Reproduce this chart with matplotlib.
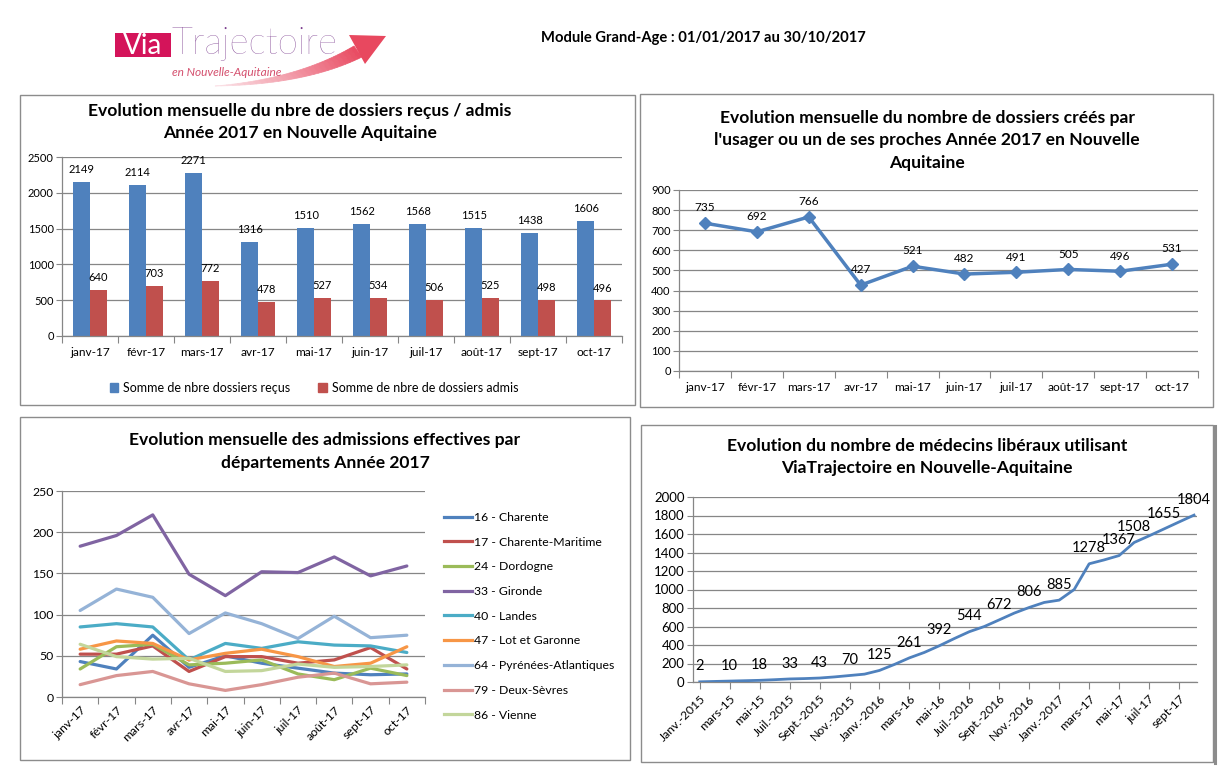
import numpy as np
import matplotlib
matplotlib.use('Agg')
import matplotlib.pyplot as plt
from matplotlib.patches import Rectangle, Polygon, Patch
from matplotlib.lines import Line2D
from matplotlib.colors import to_rgb

plt.rcParams['font.family'] = ['Lato', 'DejaVu Sans']

# ---------------- data ----------------
months17 = ['janv-17', 'févr-17', 'mars-17', 'avr-17', 'mai-17', 'juin-17',
            'juil-17', 'août-17', 'sept-17', 'oct-17']
dossiers_recus = [2149, 2114, 2271, 1316, 1510, 1562, 1568, 1515, 1438, 1606]
dossiers_admis = [640, 703, 772, 478, 527, 534, 506, 525, 498, 496]
dossiers_crees = [735, 692, 766, 427, 521, 482, 491, 505, 496, 531]

dep_names = ['16 - Charente', '17 - Charente-Maritime', '24 - Dordogne', '33 - Gironde',
             '40 - Landes', '47 - Lot et Garonne', '64 - Pyrénées-Atlantiques',
             '79 - Deux-Sèvres', '86 - Vienne']
charente = [43, 34, 75, 36, 50, 41, 35, 29, 27, 28]
charente_maritime = [52, 52, 62, 31, 49, 49, 41, 45, 60, 34]
dordogne = [34, 61, 64, 39, 41, 45, 28, 21, 35, 26]
gironde = [183, 196, 221, 149, 123, 152, 151, 170, 147, 159]
landes = [85, 89, 85, 45, 65, 59, 67, 63, 62, 54]
lot_et_garonne = [58, 68, 65, 45, 53, 58, 49, 37, 41, 61]
pyrenees_atl = [105, 131, 121, 77, 102, 89, 71, 98, 72, 75]
deux_sevres = [15, 26, 31, 16, 8, 15, 24, 29, 16, 18]
vienne = [64, 49, 46, 47, 31, 32, 40, 36, 37, 39]
dep_series = [charente, charente_maritime, dordogne, gironde, landes,
              lot_et_garonne, pyrenees_atl, deux_sevres, vienne]

med_months = ['Janv.-2015', 'févr-15', 'mars-15', 'avr-15', 'mai-15', 'juin-15',
              'Juil.-2015', 'août-15', 'Sept.-2015', 'oct-15', 'Nov.-2015', 'déc-15',
              'Janv.-2016', 'févr-16', 'mars-16', 'avr-16', 'mai-16', 'juin-16',
              'Juil.-2016', 'août-16', 'Sept.-2016', 'oct-16', 'Nov.-2016', 'déc-16',
              'Janv.-2017', 'févr-17', 'mars-17', 'avr-17', 'mai-17', 'juin-17',
              'juil-17', 'août-17', 'sept-17', 'oct-17']
medecins = [2, 6, 10, 14, 18, 25, 33, 37, 43, 55, 70, 85,
            125, 190, 261, 320, 392, 470, 544, 600, 672, 745, 806, 860,
            885, 1000, 1278, 1320, 1367, 1508, 1580, 1655, 1730, 1804]
med_labelled = [0, 2, 4, 6, 8, 10, 12, 14, 16, 18, 20, 22, 24, 26, 28, 29, 31, 33]

# ---------------- styles ----------------
BLUE = '#4F81BD'
RED = '#C0504D'
dep_colors = ['#4F81BD', '#C0504D', '#9BBB59', '#8064A2', '#4BACC6',
              '#F79646', '#95B3D7', '#D99694', '#C3D69B']
GRID = '#868686'
W, H = 1230, 766
TFS = 12.6

fig = plt.figure(figsize=(W / 100, H / 100), dpi=100)
fig.patch.set_facecolor('white')

bg = fig.add_axes([0, 0, 1, 1])
bg.set_xlim(0, W)
bg.set_ylim(H, 0)
bg.axis('off')
bg.set_zorder(-5)


def axp(x0, y0, x1, y1):
    return fig.add_axes([x0 / W, 1 - y1 / H, (x1 - x0) / W, (y1 - y0) / H])


def frame(x0, y0, x1, y1, lw=1.0):
    bg.add_patch(Rectangle((x0, y0), x1 - x0, y1 - y0, fill=False,
                           edgecolor='#8C8C8C', lw=lw))


def style(ax, ymax, ystep, fs):
    ax.set_ylim(0, ymax)
    ax.set_yticks(np.arange(0, ymax + 1, ystep))
    ax.yaxis.grid(True, color=GRID, lw=0.9)
    ax.set_axisbelow(True)
    for s in ['top', 'right']:
        ax.spines[s].set_visible(False)
    for s in ['left', 'bottom']:
        ax.spines[s].set_color(GRID)
        ax.spines[s].set_linewidth(0.9)
    ax.tick_params(axis='y', length=4, color=GRID, labelsize=fs, pad=2)
    ax.set_facecolor('none')


def cat_axis(ax, labels, fs, pad, rot=0):
    n = len(labels)
    ax.set_xlim(-0.5, n - 0.5)
    ax.set_xticks(np.arange(-0.5, n, 1))
    ax.set_xticks(np.arange(n), minor=True)
    ax.set_xticklabels(labels, minor=True)
    ax.tick_params(axis='x', which='major', length=5, color=GRID, labelbottom=False)
    ax.tick_params(axis='x', which='minor', length=0, labelsize=fs, pad=pad)
    if rot:
        for t in ax.get_xticklabels(minor=True):
            t.set_rotation(rot)
            t.set_ha('right')
            t.set_va('top')
            t.set_rotation_mode('anchor')


# ---------------- frames ----------------
frame(20, 95, 635, 405)
frame(640, 94, 1213, 407)
frame(20, 417, 630, 760)
frame(641, 425, 1213, 762)
bg.plot([1214.5, 1214.5], [426, 763], color='#8C8C8C', lw=2.2)

# ---------------- header & logo ----------------
bg.text(703, 38, 'Module Grand-Age : 01/01/2017 au 30/10/2017', fontsize=10.6,
        fontweight='bold', ha='center', va='center', color='black')

bg.add_patch(Rectangle((115, 33), 56, 24, facecolor='#D4145A', edgecolor='none'))
bg.text(143, 46, 'Via', fontsize=20, color='white', ha='center', va='center')
bg.text(171, 44, 'Trajectoire', fontsize=26.5, color='#7B3C8E', ha='left', va='center',
        fontweight='light')
bg.text(227, 72, 'en Nouvelle-Aquitaine', fontsize=8.6, color='#D4506E',
        style='italic', ha='center', va='center')


def qbez(p0, p1, p2, n=30):
    t = np.linspace(0, 1, n)[:, None]
    p0, p1, p2 = map(np.array, (p0, p1, p2))
    return (1 - t) ** 2 * p0 + 2 * (1 - t) * t * p1 + t ** 2 * p2


low = qbez((215, 86), (305, 85), (362, 57))
up = qbez((215, 86), (298, 79), (354, 46))
c0, c1 = np.array(to_rgb('#FBE3E8')), np.array(to_rgb('#E8485F'))
nseg = len(low) - 1
for i in range(nseg):
    col = c0 + (c1 - c0) * (i / nseg)
    poly = [low[i], low[i + 1], up[i + 1], up[i]]
    bg.add_patch(Polygon(poly, closed=True, facecolor=col, edgecolor=col, lw=0.5,
                         zorder=0))
bg.add_patch(Polygon([(349, 35), (386, 36), (365, 64)], closed=True,
                     facecolor='#E8485F', edgecolor='none', zorder=0))

# ---------------- chart 1: bars ----------------
ax1 = axp(62, 157, 622, 336)
style(ax1, 2500, 500, 8)
cat_axis(ax1, months17, 8.6, 8)
x = np.arange(len(months17))
bw = 0.3
ax1.bar(x - bw / 2, dossiers_recus, bw, color=BLUE, zorder=2)
ax1.bar(x + bw / 2, dossiers_admis, bw, color=RED, zorder=2)
for xi, v in zip(x, dossiers_recus):
    ax1.annotate(str(v), (xi - bw / 2, v), xytext=(0, 5), textcoords='offset points',
                 ha='center', va='bottom', fontsize=8)
for xi, v in zip(x, dossiers_admis):
    ax1.annotate(str(v), (xi + bw / 2, v), xytext=(0, 5), textcoords='offset points',
                 ha='center', va='bottom', fontsize=8)
bg.text(300, 111, 'Evolution mensuelle du nbre de dossiers reçus / admis', fontsize=TFS,
        fontweight='bold', ha='center', va='center')
bg.text(300, 133, 'Année 2017 en Nouvelle Aquitaine', fontsize=TFS,
        fontweight='bold', ha='center', va='center')
fig.legend(handles=[Patch(color=BLUE, label='Somme de nbre dossiers reçus'),
                    Patch(color=RED, label='Somme de nbre de dossiers admis')],
           loc='center', bbox_to_anchor=(314 / W, 1 - 388 / H), ncol=2,
           frameon=False, fontsize=9, handlelength=0.7, handleheight=0.7,
           handletextpad=0.4, columnspacing=2.2, borderpad=0, borderaxespad=0)

# ---------------- chart 2: line with markers ----------------
ax2 = axp(679, 190, 1198, 371)
style(ax2, 900, 100, 8)
cat_axis(ax2, months17, 8.6, 8)
ax2.plot(x, dossiers_crees, color=BLUE, lw=2.5, marker='D', markersize=6, zorder=3)
for xi, v in zip(x, dossiers_crees):
    ax2.annotate(str(v), (xi, v), xytext=(0, 7), textcoords='offset points',
                 ha='center', va='bottom', fontsize=8.5)
for i, line in enumerate(['Evolution mensuelle du nombre de dossiers créés par',
                          "l'usager ou un de ses proches Année 2017 en Nouvelle",
                          'Aquitaine']):
    bg.text(927, 118 + 22.5 * i, line, fontsize=TFS, fontweight='bold',
            ha='center', va='center')

# ---------------- chart 3: departments ----------------
ax3 = axp(62, 491, 425, 697)
style(ax3, 250, 50, 8.8)
cat_axis(ax3, months17, 8.8, 5, rot=45)
for name, vals, col in zip(dep_names, dep_series, dep_colors):
    ax3.plot(x, vals, color=col, lw=2.3, label=name, solid_capstyle='round')
handles = [Line2D([0], [0], color=c, lw=2.3) for c in dep_colors]
fig.legend(handles, dep_names, loc='upper left', bbox_to_anchor=(444 / W, 1 - 512 / H),
           bbox_transform=fig.transFigure, frameon=False, fontsize=8.8,
           handlelength=2.3, handletextpad=0.15, labelspacing=1.12,
           borderpad=0, borderaxespad=0)
bg.text(325, 440, 'Evolution mensuelle des admissions effectives par', fontsize=TFS,
        fontweight='bold', ha='center', va='center')
bg.text(325, 463, 'départements Année 2017', fontsize=TFS,
        fontweight='bold', ha='center', va='center')

# ---------------- chart 4: médecins ----------------
ax4 = axp(693, 497, 1197, 682)
style(ax4, 2000, 200, 9.5)
xm = np.arange(len(medecins))
ax4.set_xlim(-0.45, len(medecins) - 0.8)
ax4.set_xticks(xm[::2])
ax4.set_xticklabels(med_months[::2])
ax4.tick_params(axis='x', length=5, color=GRID, labelsize=8.8, pad=3)
for t in ax4.get_xticklabels():
    t.set_rotation(45)
    t.set_ha('right')
    t.set_va('top')
    t.set_rotation_mode('anchor')
ax4.plot(xm, medecins, color=BLUE, lw=2.0, zorder=3)
for i in med_labelled:
    ax4.annotate(str(medecins[i]), (xm[i], medecins[i]), xytext=(0, 6),
                 textcoords='offset points', ha='center', va='bottom', fontsize=10.5)
bg.text(927, 446, 'Evolution du nombre de médecins libéraux utilisant', fontsize=TFS,
        fontweight='bold', ha='center', va='center')
bg.text(927, 468, 'ViaTrajectoire en Nouvelle-Aquitaine', fontsize=TFS,
        fontweight='bold', ha='center', va='center')

fig.savefig('out.png', dpi=100, facecolor='white')
